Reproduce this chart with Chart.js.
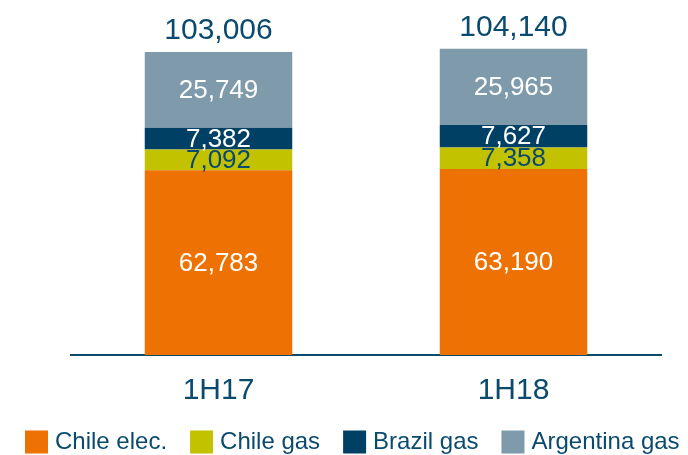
<!DOCTYPE html>
<html>
<head>
<meta charset="utf-8">
<script src="https://cdn.jsdelivr.net/npm/chart.js@4/dist/chart.umd.min.js"></script>
<style>
  body { margin: 0; background: #fff; }
  #wrap { width: 688px; height: 455px; position: relative; }
</style>
</head>
<body>
<div id="wrap"><canvas id="chart"></canvas></div>
<script>
const periods = ['1H17', '1H18'];
const chileElec = [62783, 63190];
const chileGas = [7092, 7358];
const brazilGas = [7382, 7627];
const argentinaGas = [25749, 25965];

const NAVY_TEXT = '#0b4a6f';
const FONT = 'Arial, "Liberation Sans", sans-serif';

// labels inside each segment plus the total above each bar
const valueLabels = {
    id: 'valueLabels',
    afterDatasetsDraw(chart) {
        const {ctx} = chart;
        ctx.save();
        ctx.textAlign = 'center';
        ctx.textBaseline = 'middle';
        chart.data.datasets.forEach((ds, i) => {
            const meta = chart.getDatasetMeta(i);
            meta.data.forEach((bar, j) => {
                const y = (bar.y + bar.base) / 2;
                ctx.fillStyle = ds.labelColor;
                ctx.font = '26px ' + FONT;
                ctx.fillText(ds.data[j].toLocaleString('en-US'), bar.x, y + 1);
            });
        });
        const last = chart.getDatasetMeta(chart.data.datasets.length - 1);
        last.data.forEach((bar, j) => {
            const total = chart.data.datasets.reduce((s, ds) => s + ds.data[j], 0);
            ctx.fillStyle = NAVY_TEXT;
            ctx.font = '30px ' + FONT;
            ctx.fillText(total.toLocaleString('en-US'), bar.x, bar.y - 21);
        });
        ctx.restore();
    }
};

// one-row legend along the bottom edge
const bottomLegend = {
    id: 'bottomLegend',
    afterDraw(chart) {
        const {ctx} = chart;
        const box = 23, textGap = 7, itemGap = 23, cy = 442;
        ctx.save();
        ctx.font = '24px ' + FONT;
        ctx.textBaseline = 'middle';
        ctx.textAlign = 'left';
        let x = 25;
        chart.data.datasets.forEach(ds => {
            ctx.fillStyle = ds.backgroundColor;
            ctx.fillRect(x, cy - box / 2, box, box);
            x += box + textGap;
            ctx.fillStyle = NAVY_TEXT;
            ctx.fillText(ds.label, x, cy);
            x += ctx.measureText(ds.label).width + itemGap;
        });
        ctx.restore();
    }
};

new Chart(document.getElementById('chart'), {
    type: 'bar',
    data: {
        labels: periods,
        datasets: [
            {label: 'Chile elec.', data: chileElec, backgroundColor: '#ee7203', labelColor: '#ffffff'},
            {label: 'Chile gas', data: chileGas, backgroundColor: '#c2c200', labelColor: '#0b4a6f'},
            {label: 'Brazil gas', data: brazilGas, backgroundColor: '#004065', labelColor: '#ffffff'},
            {label: 'Argentina gas', data: argentinaGas, backgroundColor: '#7f9aab', labelColor: '#ffffff'}
        ]
    },
    options: {
        responsive: true,
        maintainAspectRatio: false,
        animation: false,
        layout: {padding: {left: 71, right: 27, top: 2, bottom: 36}},
        datasets: {
            bar: {categoryPercentage: 1, barPercentage: 0.5}
        },
        scales: {
            x: {
                stacked: true,
                grid: {display: false},
                border: {color: '#0a4a6e', width: 2},
                ticks: {color: NAVY_TEXT, font: {size: 30, family: FONT}, padding: 10}
            },
            y: {
                stacked: true,
                display: false,
                min: 0,
                max: 120000
            }
        },
        plugins: {
            legend: {display: false},
            tooltip: {enabled: false}
        }
    },
    plugins: [valueLabels, bottomLegend]
});
</script>
</body>
</html>
